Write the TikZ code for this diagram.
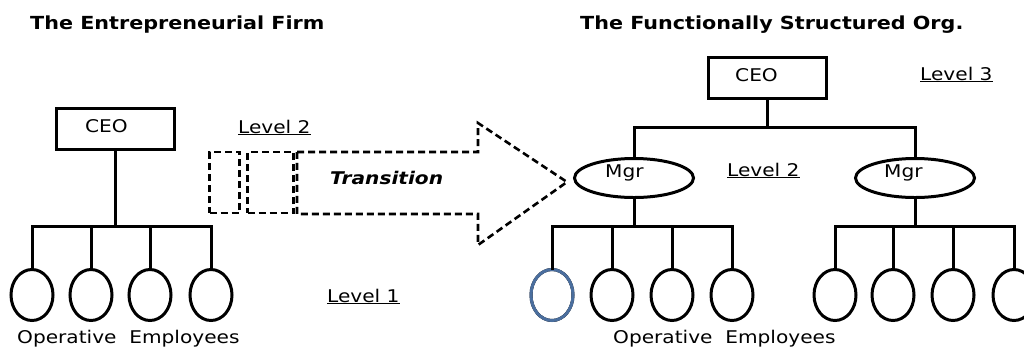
\documentclass[tikz,border=0pt]{standalone}
\usepackage{fontspec}
\setmainfont{DejaVu Sans}[FakeStretch=1.15]
\usetikzlibrary{shapes.geometric}
\definecolor{empblue}{RGB}{74,110,158}
\tikzset{
  txt/.style={inner sep=0pt, anchor=base west, font=\fontsize{17.5}{20}\selectfont},
  ttl/.style={inner sep=0pt, anchor=base west, font=\fontsize{18}{21}\selectfont\bfseries},
  link/.style={line width=3pt, line cap=rect},
  ceobox/.style={draw, line width=3pt, minimum width=118pt, minimum height=41pt, inner sep=0pt},
  emp/.style={draw, ellipse, line width=3pt, minimum width=42pt, minimum height=51pt, inner sep=0pt},
  mgr/.style={draw, ellipse, line width=3pt, minimum width=119pt, minimum height=39pt, inner sep=0pt},
  dashline/.style={line width=2.6pt, dash pattern=on 7pt off 4pt},
  dbox/.style={draw, dashline, minimum height=61pt, inner sep=0pt},
}
\begin{document}
\begin{tikzpicture}[x=1pt, y=-1pt]
\useasboundingbox (0,0) rectangle (1024,349);
\clip (0,0) rectangle (1024,349);

% headings
\node[ttl] (titleL) at (30,29) {The Entrepreneurial Firm};
\node[ttl] (titleR) at (580,29) {The Functionally Structured Org.};

% ---- entrepreneurial firm ----
\node[ceobox] (ceoL) at (115.5,129) {};
\node[txt] (ceoLt) at (85,132) {CEO};
\coordinate (busL) at (115.5,226);
\foreach \i/\x in {1/32,2/91,3/150,4/211}
  \node[emp] (eL\i) at (\x,295) {};
\draw[link] (ceoL.south) -- (busL);
\draw[link] (eL1.north) |- (eL4.north |- busL) -- (eL4.north);
\draw[link] (eL2.north) -- (eL2.north |- busL);
\draw[link] (eL3.north) -- (eL3.north |- busL);
\node[txt] (opL) at (17,343) {Operative\ \ Employees};
\node[txt] (lvl1) at (327,302) {\underline{Level 1}};
\node[txt] (lvl2L) at (238,133) {\underline{Level 2}};

% ---- transition arrow ----
\node[dbox, minimum width=30pt] (dr1) at (224.5,182.5) {};
\node[dbox, minimum width=46pt] (dr2) at (270.5,182.5) {};
\coordinate (a1) at (297,152);
\coordinate (a2) at (478,152);
\coordinate (a3) at (478,123);
\coordinate (a4) at (567,182);
\coordinate (a5) at (478,245);
\coordinate (a6) at (478,214);
\coordinate (a7) at (297,214);
\draw[dashline] (a1) -- (a2) -- (a3) -- (a4) -- (a5) -- (a6) -- (a7) -- cycle;
\node[txt, font=\fontsize{17.5}{20}\selectfont\bfseries\itshape] (trans) at (330,184) {Transition};

% ---- functional organisation ----
\node[ceobox] (ceoR) at (767.5,77.5) {};
\node[txt] (ceoRt) at (735,81) {CEO};
\node[mgr] (m1) at (634,178) {};
\node[mgr] (m2) at (915,178) {};
\node[txt] (m1t) at (605,177) {Mgr};
\node[txt] (m2t) at (884,177) {Mgr};
\coordinate (busTop) at (767.5,127);
\draw[link] (ceoR.south) -- (busTop);
\draw[link] (m1.north) |- (m2.north |- busTop) -- (m2.north);

\coordinate (busA) at (634,226);
\coordinate (busB) at (915,226);
\foreach \i/\x in {1/552,2/612,3/672,4/732}
  \node[emp] (eA\i) at (\x,295) {};
\foreach \i/\x in {1/835,2/893,3/953,4/1014}
  \node[emp] (eB\i) at (\x,295) {};
\node[emp, draw=empblue] at (eA1) {};
\draw[link] (m1.south) -- (busA);
\draw[link] (eA1.north) |- (eA4.north |- busA) -- (eA4.north);
\draw[link] (eA2.north) -- (eA2.north |- busA);
\draw[link] (eA3.north) -- (eA3.north |- busA);
\draw[link] (m2.south) -- (busB);
\draw[link] (eB1.north) |- (eB4.north |- busB) -- (eB4.north);
\draw[link] (eB2.north) -- (eB2.north |- busB);
\draw[link] (eB3.north) -- (eB3.north |- busB);

\node[txt] (lvl2R) at (727,176) {\underline{Level 2}};
\node[txt] (lvl3) at (920,80) {\underline{Level 3}};
\node[txt] (opR) at (613,343) {Operative\ \ Employees};
\end{tikzpicture}
\end{document}
